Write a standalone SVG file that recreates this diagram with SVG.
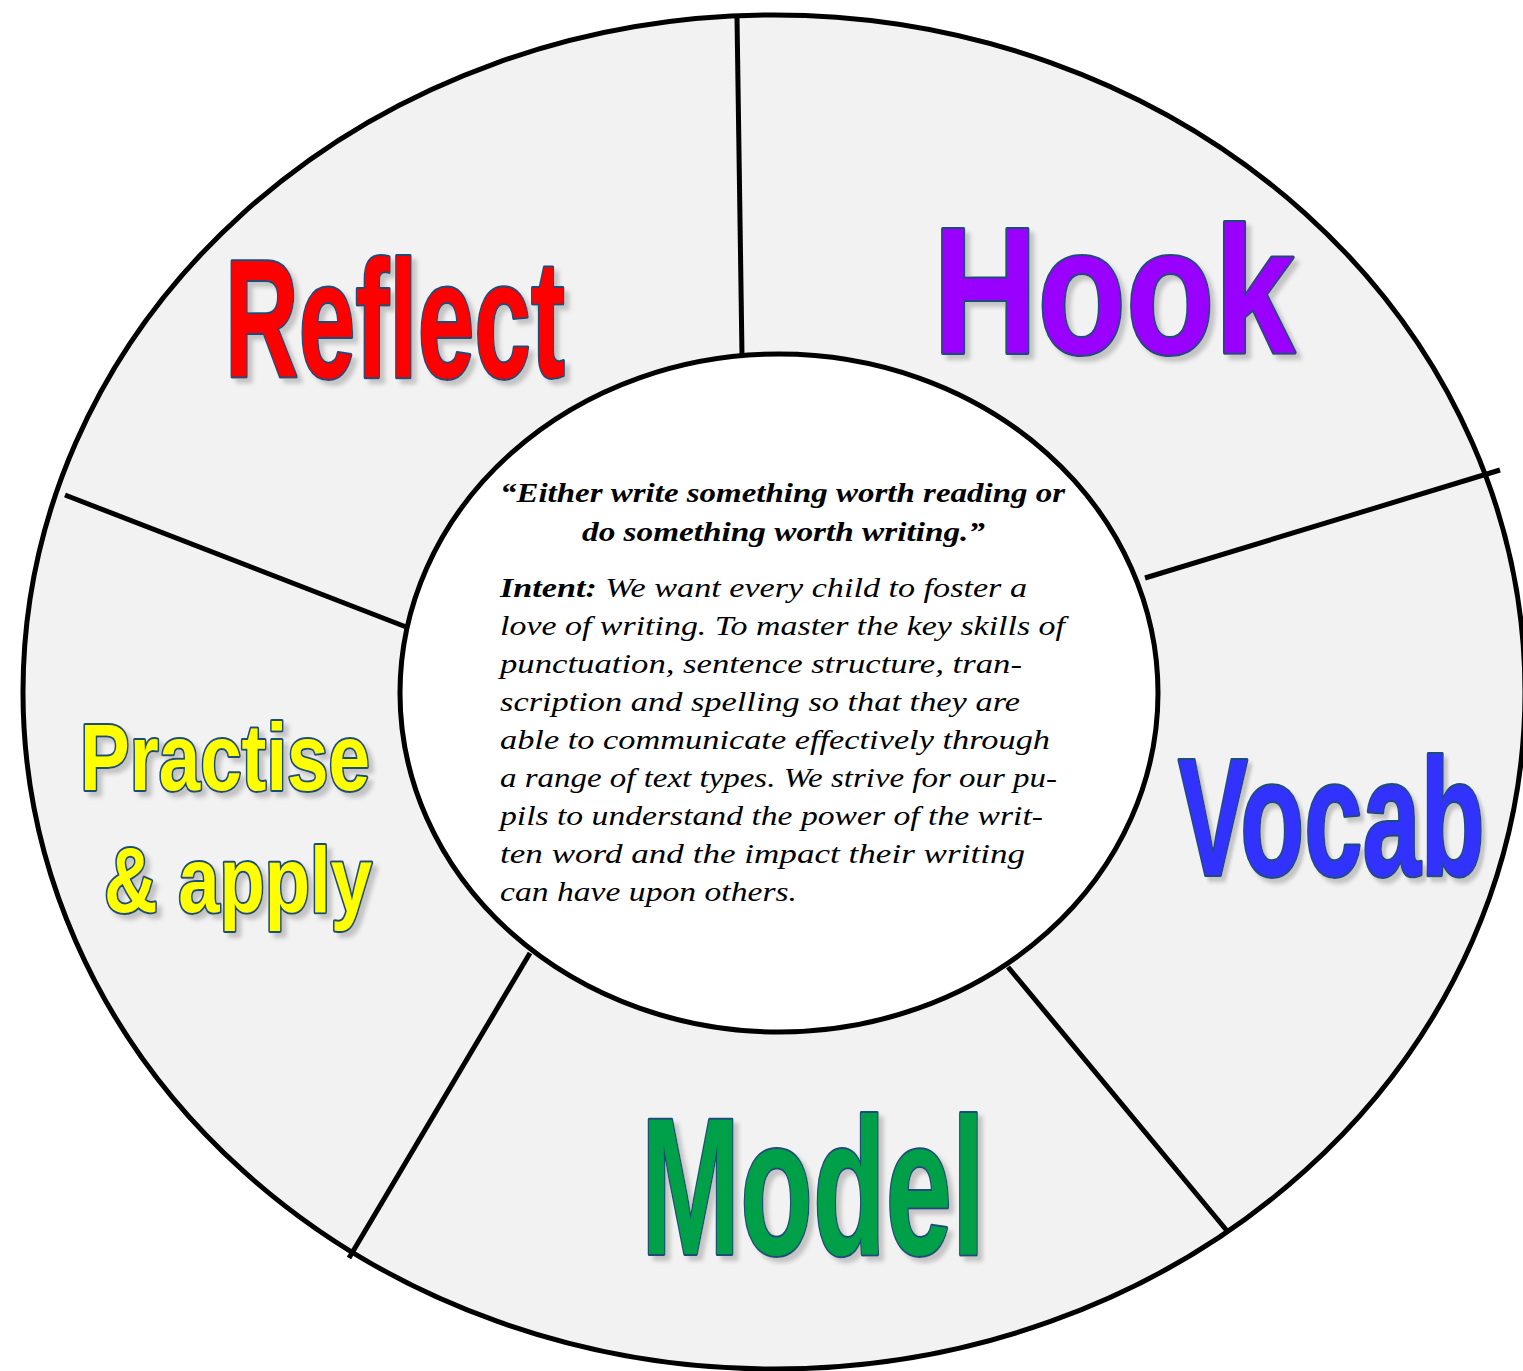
<svg xmlns="http://www.w3.org/2000/svg" width="1523" height="1371" viewBox="0 0 1523 1371">
<defs>
<filter id="shadow" x="-3%" y="-5%" width="108%" height="118%">
<feGaussianBlur in="SourceAlpha" stdDeviation="2"/>
<feOffset dx="5" dy="5" result="b"/>
<feFlood flood-color="#c4c4c4"/>
<feComposite in2="b" operator="in" result="s"/>
<feMerge><feMergeNode in="s"/><feMergeNode in="SourceGraphic"/></feMerge>
</filter>
</defs>
<style>
.big{font-family:"Liberation Sans Narrow","Liberation Sans",Arial,sans-serif;font-weight:bold;stroke:#1f4e79;stroke-width:4;stroke-linejoin:round;paint-order:stroke;filter:url(#shadow)}
.quote{font-family:"Liberation Serif","DejaVu Serif",serif;font-style:italic;font-weight:bold;font-size:27px;fill:#000}
.body{font-family:"Liberation Serif","DejaVu Serif",serif;font-style:italic;font-size:27px;fill:#000}
.div{stroke:#000;stroke-width:5;fill:none}
</style>
<rect width="1523" height="1371" fill="#fff"/>
<g id="wheel">
<ellipse cx="774" cy="692" rx="751" ry="677" fill="#f2f2f2" stroke="#000" stroke-width="5"/>
</g>
<g id="connectors">
<line class="div" x1="737" y1="17" x2="742" y2="355"/>
<line class="div" x1="1145" y1="578" x2="1500" y2="470"/>
<line class="div" x1="1008" y1="967" x2="1228" y2="1232"/>
<line class="div" x1="530" y1="953" x2="349" y2="1258"/>
<line class="div" x1="65" y1="495" x2="414" y2="630"/>
</g>
<g id="center">
<ellipse cx="779" cy="693" rx="379" ry="339" fill="#fff" stroke="#000" stroke-width="5"/>
<text class="quote" x="500" y="502" textLength="565" lengthAdjust="spacingAndGlyphs">“Either write something worth reading or</text>
<text class="quote" x="582" y="541" textLength="403" lengthAdjust="spacingAndGlyphs">do something worth writing.”</text>
<text class="body" x="500" y="597" textLength="527" lengthAdjust="spacingAndGlyphs"><tspan font-weight="bold">Intent:</tspan>  We want every child to foster a</text>
<text class="body" x="500" y="635" textLength="565" lengthAdjust="spacingAndGlyphs">love of writing.  To master the key skills of</text>
<text class="body" x="500" y="673" textLength="522" lengthAdjust="spacingAndGlyphs">punctuation, sentence structure, tran-</text>
<text class="body" x="500" y="711" textLength="520" lengthAdjust="spacingAndGlyphs">scription and spelling so that they are</text>
<text class="body" x="500" y="749" textLength="550" lengthAdjust="spacingAndGlyphs">able to communicate effectively through</text>
<text class="body" x="500" y="787" textLength="557" lengthAdjust="spacingAndGlyphs">a range of text types. We strive for our pu-</text>
<text class="body" x="500" y="825" textLength="543" lengthAdjust="spacingAndGlyphs">pils to understand the power of the writ-</text>
<text class="body" x="500" y="863" textLength="525" lengthAdjust="spacingAndGlyphs">ten word and the impact their writing</text>
<text class="body" x="500" y="901" textLength="297" lengthAdjust="spacingAndGlyphs">can have upon others.</text>
</g>
<g id="reflect">
<text class="big" x="225" y="377" font-size="167" fill="#ff0000" textLength="340" lengthAdjust="spacingAndGlyphs">Reflect</text>
</g>
<g id="hook">
<text class="big" x="933" y="353" font-size="180" fill="#9900ff" textLength="362" lengthAdjust="spacingAndGlyphs">Hook</text>
</g>
<g id="vocab">
<text class="big" transform="translate(1178,875) scale(0.75,1)" x="0" y="0" font-size="167" fill="#3333ff" textLength="409" lengthAdjust="spacingAndGlyphs">Vocab</text>
</g>
<g id="model">
<text class="big" x="641" y="1254" font-size="195" fill="#00a04a" textLength="344" lengthAdjust="spacingAndGlyphs">Model</text>
</g>
<g id="practise">
<text class="big" x="80" y="790" font-size="95" fill="#ffff00" textLength="290" lengthAdjust="spacingAndGlyphs">Practise</text>
<text class="big" x="104" y="912" font-size="92" fill="#ffff00" textLength="268" lengthAdjust="spacingAndGlyphs">&amp; apply</text>
</g>
</svg>
